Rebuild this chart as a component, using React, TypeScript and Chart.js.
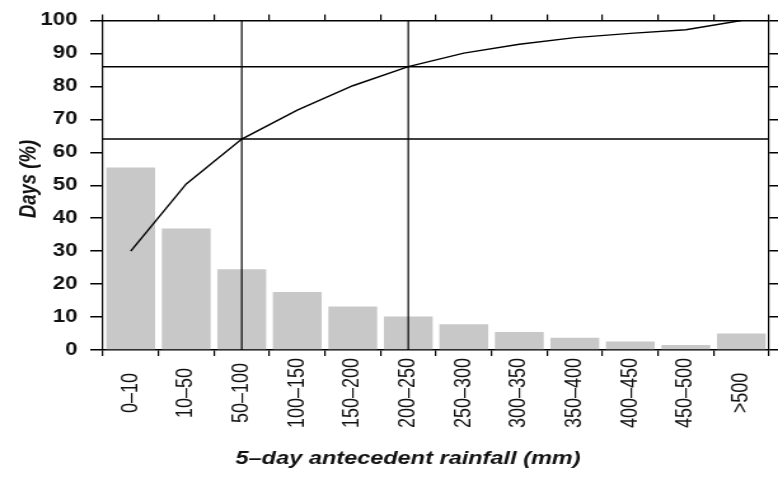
import React, { useEffect, useRef } from 'react';
import { Chart, registerables } from 'chart.js';

Chart.register(...registerables);

const categories = ['0\u201310', '10\u201350', '50\u2013100', '100\u2013150', '150\u2013200', '200\u2013250', '250\u2013300', '300\u2013350', '350\u2013400', '400\u2013450', '450\u2013500', '>500'];
const dayPercent = [55.4, 36.9, 24.5, 17.6, 13.2, 10.2, 7.8, 5.5, 3.7, 2.6, 1.5, 5.0];
const cumulativePercent = [30, 50.4, 64, 72.8, 80.2, 86, 90.1, 92.8, 94.8, 96.1, 97.2, 100];
const refLevels = [64, 86];
const refCategories = ['50\u2013100', '200\u2013250'];
const yTicks = [0, 10, 20, 30, 40, 50, 60, 70, 80, 90, 100];
const xTitle = '5\u2013day antecedent rainfall (mm)';
const yTitle = 'Days (%)';

const CANVAS_W = 612;
const CANVAS_H = 478;
const FONT = '"Liberation Sans", Arial, Helvetica, sans-serif';

const overlayPlugin = {
  id: 'overlay',
  afterDatasetsDraw(chart: any) {
    const { ctx, chartArea, scales } = chart;
    ctx.save();
    ctx.strokeStyle = '#000';
    ctx.lineWidth = 1.5;
    refLevels.forEach((v) => {
      const y = scales.y.getPixelForValue(v);
      ctx.beginPath();
      ctx.moveTo(chartArea.left, y);
      ctx.lineTo(chartArea.right, y);
      ctx.stroke();
    });
    ctx.lineWidth = 1.2;
    refCategories.forEach((c) => {
      const x = scales.x.getPixelForValue(categories.indexOf(c));
      ctx.beginPath();
      ctx.moveTo(x, chartArea.top);
      ctx.lineTo(x, chartArea.bottom);
      ctx.stroke();
    });
    ctx.restore();
  },
  afterDraw(chart: any) {
    const { ctx, scales } = chart;
    ctx.save();
    ctx.fillStyle = '#111';
    ctx.font = `18px ${FONT}`;
    ctx.textAlign = 'center';
    ctx.textBaseline = 'middle';
    categories.forEach((label, i) => {
      const x = scales.x.getPixelForValue(i);
      ctx.save();
      ctx.translate(x, 393);
      ctx.rotate(-Math.PI / 2);
      ctx.fillText(label, 0, 0);
      ctx.restore();
    });
    ctx.font = `italic bold 18.5px ${FONT}`;
    ctx.fillText(xTitle, 321, 459);
    ctx.save();
    ctx.translate(23, 179);
    ctx.rotate(-Math.PI / 2);
    ctx.fillText(yTitle, 0, 0);
    ctx.restore();
    ctx.restore();
  },
};

export default function App() {
  const ref = useRef<HTMLCanvasElement>(null);
  useEffect(() => {
    if (!ref.current) return;
    const chart = new Chart(ref.current, {
      type: 'bar',
      data: {
        labels: categories,
        datasets: [
          {
            type: 'line',
            label: 'Cumulative',
            data: cumulativePercent,
            borderColor: '#000',
            borderWidth: 1.4,
            pointRadius: 0,
            tension: 0,
            fill: false,
            order: 0,
          } as any,
          {
            type: 'bar',
            label: 'Days',
            data: dayPercent,
            backgroundColor: '#c8c8c8',
            borderWidth: 0,
            barPercentage: 0.88,
            categoryPercentage: 1,
            order: 1,
          },
        ],
      },
      options: {
        responsive: false,
        animation: false,
        devicePixelRatio: 1,
        layout: { padding: 0 },
        plugins: { legend: { display: false }, tooltip: { enabled: false } },
        scales: {
          x: {
            type: 'category',
            position: 'bottom',
            offset: true,
            grid: { display: true, drawOnChartArea: false, drawTicks: true, tickLength: 6, color: '#000', lineWidth: 1.2, offset: true },
            border: { display: true, color: '#000', width: 1.5 },
            ticks: { display: false },
            title: { display: false },
            afterFit: (s: any) => { s.height = 128; },
          },
          x2: {
            type: 'category',
            position: 'top',
            labels: categories,
            offset: true,
            grid: { display: true, drawOnChartArea: false, drawTicks: true, tickLength: 6, color: '#000', lineWidth: 1.2, offset: true },
            border: { display: true, color: '#000', width: 1.5 },
            ticks: { display: false },
            afterFit: (s: any) => { s.height = 16; },
          },
          y: {
            type: 'linear',
            position: 'left',
            min: 0,
            max: 100,
            afterBuildTicks: (s: any) => { s.ticks = yTicks.map((v) => ({ value: v })); },
            grid: { display: true, drawOnChartArea: false, drawTicks: true, tickLength: 10, color: '#000', lineWidth: 1.5 },
            border: { display: true, color: '#000', width: 1.2 },
            ticks: { color: '#111', padding: 10, font: { family: FONT, size: 17.5, weight: 'bold' } },
            title: { display: false },
            afterFit: (s: any) => { s.width = 81; },
          },
          y2: {
            type: 'linear',
            position: 'right',
            min: 0,
            max: 100,
            afterBuildTicks: (s: any) => { s.ticks = yTicks.map((v) => ({ value: v })); },
            grid: { display: true, drawOnChartArea: false, drawTicks: true, tickLength: 7, color: '#000', lineWidth: 1.5 },
            border: { display: true, color: '#000', width: 1.2 },
            ticks: { display: false },
            afterFit: (s: any) => { s.width = 7; },
          },
        },
      },
      plugins: [overlayPlugin],
    });
    return () => chart.destroy();
  }, []);
  return (
    <div style={{ position: 'absolute', left: 0, top: 0, width: 778, height: 478, background: '#fff' }}>
      <canvas ref={ref} width={CANVAS_W} height={CANVAS_H} style={{ width: 778, height: 478, display: 'block' }} />
    </div>
  );
}
